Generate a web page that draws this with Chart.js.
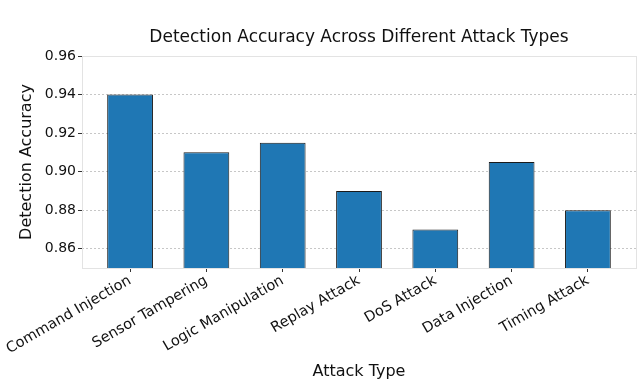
<!DOCTYPE html>
<html>
<head>
<meta charset="utf-8">
<script src="https://cdn.jsdelivr.net/npm/chart.js@4/dist/chart.umd.min.js"></script>
<style>
html,body{margin:0;padding:0;background:#fff;}
#wrap{width:640px;height:382px;}
</style>
</head>
<body>
<div id="wrap"><canvas id="c" width="640" height="382"></canvas></div>
<script>
const categories = ["Command Injection","Sensor Tampering","Logic Manipulation","Replay Attack","DoS Attack","Data Injection","Timing Attack"];
const accuracy = [0.94, 0.91, 0.915, 0.89, 0.87, 0.905, 0.88];
const yTicks = [0.86, 0.88, 0.90, 0.92, 0.94, 0.96];
const titleText = "Detection Accuracy Across Different Attack Types";
const xTitle = "Attack Type";
const yTitle = "Detection Accuracy";

const FONT = "'DejaVu Sans', sans-serif";
const frame = {
  id: 'frame',
  afterDraw(chart) {
    const a = chart.chartArea, ctx = chart.ctx;
    ctx.save();
    ctx.strokeStyle = '#e3e3e3';
    ctx.lineWidth = 1;
    ctx.strokeRect(Math.round(a.left) + 0.5, Math.round(a.top) + 0.5, Math.round(a.right - a.left), Math.round(a.bottom - a.top));
    ctx.restore();
  }
};

new Chart(document.getElementById('c'), {
  type: 'bar',
  data: {
    datasets: [{
      data: categories.map((c, i) => ({x: i, y: accuracy[i]})),
      backgroundColor: '#1f77b4',
      borderColor: '#1a1a1a',
      borderWidth: 1,
      borderSkipped: false,
      barPercentage: 0.6,
      categoryPercentage: 1.0
    }]
  },
  options: {
    responsive: false,
    animation: false,
    devicePixelRatio: 1,
    layout: {padding: {left: 0, right: 4, top: 0, bottom: 0}},
    plugins: {
      legend: {display: false},
      tooltip: {enabled: false},
      title: {
        display: true,
        fullSize: false,
        text: titleText,
        color: '#111',
        font: {family: FONT, size: 17, weight: 'normal', lineHeight: 1.2},
        padding: {top: 27, bottom: 8.6}
      }
    },
    scales: {
      x: {
        type: 'linear',
        offset: false,
        min: -0.63,
        max: 6.63,
        afterBuildTicks(scale) { scale.ticks = categories.map((c, i) => ({value: i})); },
        afterFit(scale) { scale.height = 114; scale.paddingLeft = 0; scale.paddingRight = 0; },
        grid: {offset: false, drawOnChartArea: false, drawTicks: true, tickLength: 4, tickColor: '#333', tickWidth: 1},
        border: {display: false},
        ticks: {
          autoSkip: false,
          minRotation: 30,
          maxRotation: 30,
          padding: 0,
          color: '#111',
          font: {family: FONT, size: 14.5},
          callback: (v) => categories[v]
        },
        title: {
          display: true,
          text: xTitle,
          color: '#111',
          font: {family: FONT, size: 16},
          padding: {top: 0, bottom: 1}
        }
      },
      y: {
        min: 0.85,
        max: 0.96,
        afterBuildTicks(scale) { scale.ticks = yTicks.map(v => ({value: v})); },
        afterFit(scale) { scale.width = 82; scale.paddingTop = 0; scale.paddingBottom = 0; },
        grid: {
          color: 'rgba(0,0,0,0.28)',
          lineWidth: 0.8,
          drawTicks: true,
          tickLength: 4,
          tickColor: '#333',
          tickWidth: 1,
          tickBorderDash: []
        },
        border: {display: false, dash: [2, 2]},
        ticks: {
          padding: 2,
          color: '#111',
          font: {family: FONT, size: 14},
          callback: (v) => Number(v).toFixed(2)
        },
        title: {
          display: true,
          text: yTitle,
          color: '#111',
          font: {family: FONT, size: 16},
          padding: {top: 17, bottom: 0}
        }
      }
    }
  },
  plugins: [frame]
});
</script>
</body>
</html>
